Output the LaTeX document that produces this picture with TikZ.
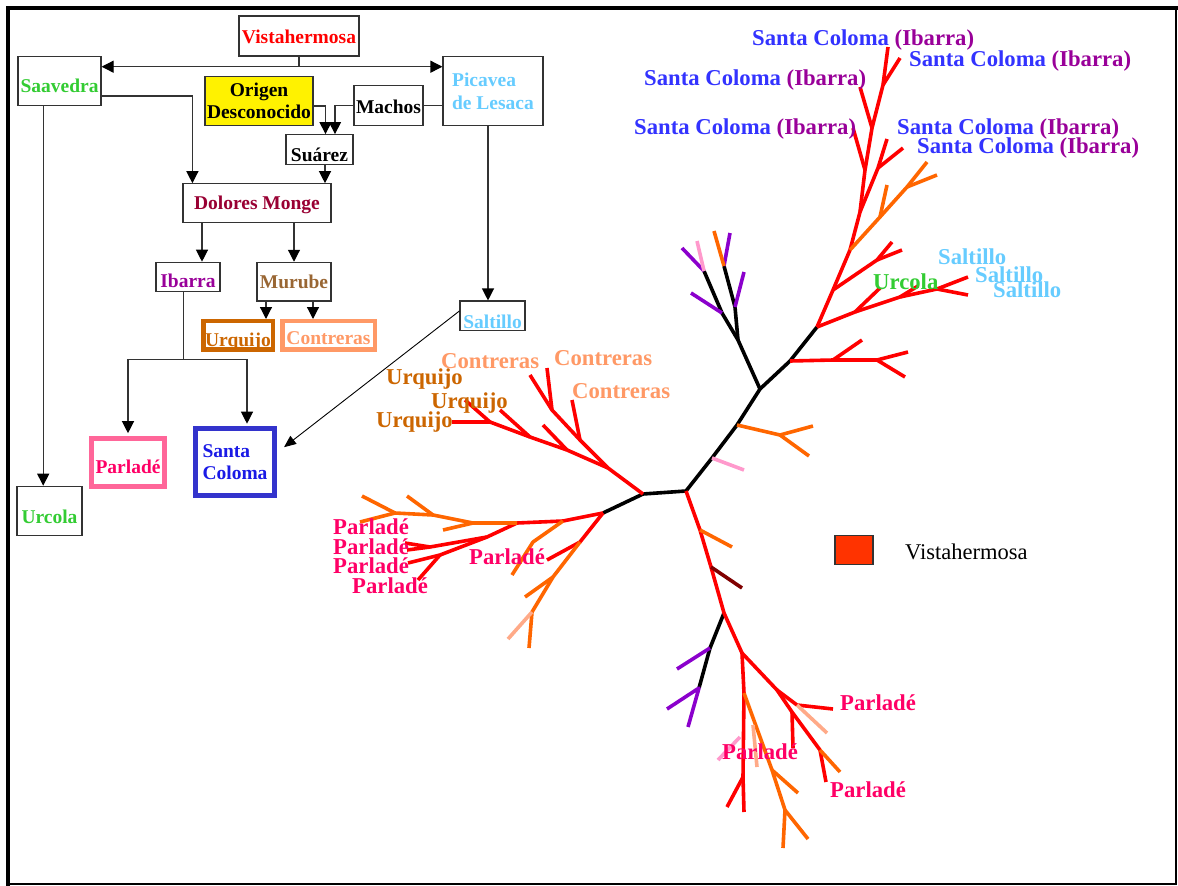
\documentclass[tikz,border=0pt]{standalone}
\usepackage{fontspec}
\setmainfont{Liberation Serif}
\usetikzlibrary{arrows.meta}

\definecolor{vred}{HTML}{FF0000}
\definecolor{sgreen}{HTML}{33CC33}
\definecolor{sky}{HTML}{66CCFF}
\definecolor{dmred}{HTML}{990033}
\definecolor{ibpur}{HTML}{990099}
\definecolor{mbrown}{HTML}{996633}
\definecolor{uqbrown}{HTML}{CC6600}
\definecolor{ctsalmon}{HTML}{FF9966}
\definecolor{pdpink}{HTML}{FF6699}
\definecolor{pdtext}{HTML}{FF0066}
\definecolor{scframe}{HTML}{3333CC}
\definecolor{sctext}{HTML}{1A1AE6}
\definecolor{scblue}{HTML}{3333FF}
\definecolor{legred}{HTML}{FF3300}
\definecolor{tora}{HTML}{FF6600}
\definecolor{tsal}{HTML}{FFAA88}
\definecolor{tpink}{HTML}{FF99CC}
\definecolor{tpur}{HTML}{8B00CC}
\definecolor{tdred}{HTML}{800000}

\newcommand\boxfont{\fontsize{19.5}{22.5}\selectfont\bfseries}
\newcommand\treefont{\fontsize{22.7}{24}\selectfont\bfseries}
\newcommand\legfont{\fontsize{22.5}{24}\selectfont}

\begin{document}
\begin{tikzpicture}[x=1pt,y=-1pt,
  box/.style={draw=black!80,line width=1.2pt,inner sep=0pt,font=\boxfont,fill=white},
  fat/.style={draw=#1,line width=4.5pt,inner sep=0pt,font=\boxfont,fill=white},
  lift/.style={text height=#1,text depth=0pt},
  conn/.style={draw=black!80,line width=1.2pt},
  arr/.style={conn,-{Triangle[length=12pt,width=12pt,color=black]}},
  br/.style={line width=3.6pt,line join=round},
  lbl/.style={anchor=west,inner sep=0pt,font=\treefont,text height=15pt,text depth=0pt}]
\useasboundingbox (0,0) rectangle (1178,886);
\fill[white] (0,0) rectangle (1178,886);
% frame
\draw[line width=1.6pt] (8,884) -- (1176,884) -- (1176,8);
\draw[line width=4pt] (8,886) -- (8,8) -- (1178,8);

% family boxes
\node[box,minimum width=120,minimum height=40,text=vred,lift=15.9pt] (vista) at (299,36) {Vistahermosa};
\node[box,minimum width=83,minimum height=49,text=sgreen,lift=22.9pt] (saav) at (59.5,81.3) {Saavedra};
\node[box,minimum width=100,minimum height=69,text=sky,align=left] (pica) at (493,91.2) {Picavea\\de Lesaca};
\node[box,minimum width=108,minimum height=49,fill=yellow,align=center] (orig) at (259,101) {Origen\\Desconocido};
\node[box,minimum width=69,minimum height=40,lift=15.9pt] (mach) at (388.5,105.8) {Machos};
\node[box,minimum width=67,minimum height=30,lift=22.9pt] (suar) at (319.5,149.7) {Suárez};
\node[box,minimum width=148,minimum height=39,text=dmred,lift=12.9pt] (dolo) at (257,203.3) {Dolores Monge};
\node[box,minimum width=64,minimum height=29.4,text=ibpur,lift=20.9pt] (ibar) at (188,277) {Ibarra};
\node[box,minimum width=74,minimum height=38.7,text=mbrown,lift=14.1pt] (muru) at (294,281.7) {Murube};
\node[fat=uqbrown,minimum width=69.5,minimum height=28.2,text=uqbrown,lift=22.3pt] (urqu) at (238,335.3) {Urquijo};
\node[fat=ctsalmon,minimum width=92.5,minimum height=28.2,text=ctsalmon,lift=18.3pt] (cont) at (328.5,335.3) {Contreras};
\node[box,minimum width=65,minimum height=29.3,text=sky,lift=24.9pt] (salt) at (492.5,315.7) {Saltillo};
\node[fat=pdpink,line width=5pt,minimum width=73,minimum height=48,text=pdtext,lift=22.9pt] (parl) at (128,462.2) {Parladé};
\node[fat=scframe,line width=5pt,minimum width=79,minimum height=67,text=sctext,align=left] (sc) at (235,462.2) {Santa\\Coloma};
\node[box,minimum width=65,minimum height=49.4,text=sgreen,lift=24.3pt] (urco) at (49.5,511) {Urcola};

% descent lines
\coordinate (vsplit) at (vista.south |- 0,66.7);
\draw[conn] (vista.south) -- (vsplit);
\draw[arr] (vsplit) -- (saav.east |- vsplit);
\draw[arr] (vsplit) -- (pica.west |- vsplit);
\draw[arr] (saav.east |- 0,96) -| ([xshift=10pt]dolo.north west);
\draw[arr] ([yshift=-5pt]orig.east) -| ([xshift=6pt]suar.north);
\draw[arr] (mach.west) -| ([xshift=15.5pt]suar.north);
\draw[conn] (mach.east) -- (pica.west |- mach.east);
\draw[arr] ([xshift=5.5pt]suar.south) -- ([xshift=5.5pt]suar.south |- dolo.north);
\draw[arr] ([xshift=14pt]ibar.north |- dolo.south) -- ([xshift=14pt]ibar.north);
\draw[arr] (muru.north |- dolo.south) -- (muru.north);
\draw[arr] ([xshift=-28pt]muru.south) -- ([xshift=-28pt]muru.south |- 0,319);
\draw[arr] ([xshift=19pt]muru.south) -- ([xshift=19pt]muru.south |- 0,319);
\coordinate (isplit) at ([xshift=-4.4pt]ibar.south |- 0,359.3);
\draw[conn] ([xshift=-4.4pt]ibar.south) -- (isplit);
\draw[arr] (isplit) -| ([yshift=2.5pt]parl.north);
\draw[arr] (isplit) -| ([xshift=12pt,yshift=2.5pt]sc.north);
\draw[arr] ([xshift=-16.3pt]saav.south) -- ([xshift=-16.3pt]saav.south |- urco.north);
\draw[arr] ([xshift=-5pt]pica.south) -- ([xshift=-5pt]pica.south |- salt.north);
\draw[-{Triangle[length=12pt,width=10pt]},line width=0.9pt] ([yshift=4.7pt]salt.west) -- ([xshift=7pt,yshift=15pt]sc.east);

% tree: backbone
\draw[br] (603,513) -- (643,494) -- (686,491) -- (712,458) -- (737,425) -- (760,389) -- (790,361) -- (817,327);
\draw[br] (760,389) -- (738,340) -- (722,313) -- (704,271);
\draw[br] (738,340) -- (735,307) -- (724,266);
\draw[br] (724,613) -- (710,648) -- (699,688);
% tree: red
\draw[br,vred] (817,327) -- (833,290) -- (850,250) -- (860,212) -- (865,170) -- (872,128) -- (883,85) -- (888,47);
\draw[br,vred] (883,85) -- (900,58);
\draw[br,vred] (872,128) -- (860,87);
\draw[br,vred] (865,170) -- (853,128);
\draw[br,vred] (860,212) -- (878,168) -- (887,139);
\draw[br,vred] (878,168) -- (903,148);
\draw[br,vred] (833,290) -- (877,260) -- (892,242);
\draw[br,vred] (877,260) -- (902,250);
\draw[br,vred] (817,327) -- (855,312) -- (900,297) -- (937,289) -- (968,277);
\draw[br,vred] (937,289) -- (968,295);
\draw[br,vred] (855,312) -- (880,288);
\draw[br,vred] (900,297) -- (918,286);
\draw[br,vred] (790,361) -- (833,360) -- (877,360) -- (908,352);
\draw[br,vred] (877,360) -- (905,377);
\draw[br,vred] (833,360) -- (862,340);
\draw[br,vred] (643,494) -- (608,468) -- (580,440) -- (552,410) -- (530,375);
\draw[br,vred] (552,410) -- (547,368);
\draw[br,vred] (580,440) -- (572,400);
\draw[br,vred] (608,468) -- (567,450) -- (530,437) -- (490,422) -- (452,422);
\draw[br,vred] (567,450) -- (543,425);
\draw[br,vred] (530,437) -- (500,410);
\draw[br,vred] (490,422) -- (465,400);
\draw[br,vred] (603,513) -- (563,521) -- (517,523) -- (487,537) -- (430,547) -- (405,543);
\draw[br,vred] (430,547) -- (407,550);
\draw[br,vred] (487,537) -- (440,555) -- (408,563);
\draw[br,vred] (440,555) -- (418,580);
\draw[br,vred] (603,513) -- (580,542) -- (547,560);
\draw[br,vred] (686,491) -- (700,530) -- (711,567) -- (724,613) -- (742,653) -- (744,693) -- (743,777) -- (744,812);
\draw[br,vred] (743,777) -- (727,807);
\draw[br,vred] (742,653) -- (777,690) -- (792,712) -- (820,750) -- (826,782);
\draw[br,vred] (792,712) -- (793,748);
\draw[br,vred] (777,690) -- (797,705) -- (833,709);
% tree: orange
\draw[br,tora] (737,425) -- (780,435) -- (813,426);
\draw[br,tora] (780,435) -- (809,456);
\draw[br,tora] (850,250) -- (880,217) -- (907,187) -- (927,162);
\draw[br,tora] (907,187) -- (937,175);
\draw[br,tora] (880,217) -- (887,185);
\draw[br,tora] (517,523) -- (473,523) -- (433,515) -- (395,513) -- (360,522);
\draw[br,tora] (433,515) -- (407,496);
\draw[br,tora] (395,513) -- (362,496);
\draw[br,tora] (473,523) -- (443,530);
\draw[br,tora] (563,521) -- (533,542) -- (512,575);
\draw[br,tora] (580,542) -- (553,577) -- (532,612) -- (529,648);
\draw[br,tora] (553,577) -- (525,597);
\draw[br,tora] (700,530) -- (732,547);
\draw[br,tora] (744,693) -- (772,770) -- (785,810) -- (783,848);
\draw[br,tora] (772,770) -- (798,793);
\draw[br,tora] (785,810) -- (808,839);
\draw[br,tora] (820,750) -- (840,772);
% tree: other colours
\draw[br,tpur] (722,313) -- (691,293);
\draw[br,tpur] (735,307) -- (744,272);
\draw[br,tpur] (704,271) -- (682,248);
\draw[br,tpur] (724,266) -- (730,233);
\draw[br,tpur] (710,648) -- (677,669);
\draw[br,tpur] (667,709) -- (699,688) -- (688,727);
\draw[br,tpink] (704,271) -- (697,241);
\draw[br,tpink] (712,458) -- (744,470);
\draw[br,tpink] (740,737) -- (718,760);
\draw[br,tora] (724,266) -- (714,231);
\draw[br,tsal] (532,612) -- (508,639);
\draw[br,tsal] (797,705) -- (827,733);
\draw[br,tsal] (753,725) -- (757,767);
\draw[br,tdred] (711,567) -- (742,588);

% tree labels
\node[lbl] (sc1) at (752,38.3) {\color{scblue}Santa Coloma \color{ibpur}(Ibarra)};
\node[lbl] (sc2) at (909,59.3) {\color{scblue}Santa Coloma \color{ibpur}(Ibarra)};
\node[lbl] (sc3) at (644,78.3) {\color{scblue}Santa Coloma \color{ibpur}(Ibarra)};
\node[lbl] (sc4) at (634,126.7) {\color{scblue}Santa Coloma \color{ibpur}(Ibarra)};
\node[lbl] (sc5) at (897,126.7) {\color{scblue}Santa Coloma \color{ibpur}(Ibarra)};
\node[lbl] (sc6) at (917,146) {\color{scblue}Santa Coloma \color{ibpur}(Ibarra)};
\node[lbl,text=sky] (sal1) at (938,256.7) {Saltillo};
\node[lbl,text=sky] (sal2) at (975,275) {Saltillo};
\node[lbl,text=sky] (sal3) at (993,290) {Saltillo};
\node[lbl,text=sgreen] (urc1) at (873,281.7) {Urcola};
\node[lbl,text=ctsalmon] (con1) at (441,360.7) {Contreras};
\node[lbl,text=ctsalmon] (con2) at (554,358.3) {Contreras};
\node[lbl,text=ctsalmon] (con3) at (572,390.7) {Contreras};
\node[lbl,text=uqbrown] (urq1) at (386,376.7) {Urquijo};
\node[lbl,text=uqbrown] (urq2) at (431,401) {Urquijo};
\node[lbl,text=uqbrown] (urq3) at (376,420) {Urquijo};
\node[lbl,text=pdtext] (par1) at (333,526.7) {Parladé};
\node[lbl,text=pdtext] (par2) at (333,546.7) {Parladé};
\node[lbl,text=pdtext] (par3) at (333,566) {Parladé};
\node[lbl,text=pdtext] (par4) at (352,586) {Parladé};
\node[lbl,text=pdtext] (par5) at (469,556.7) {Parladé};
\node[lbl,text=pdtext] (par6) at (722,751.7) {Parladé};
\node[lbl,text=pdtext] (par7) at (840,702.7) {Parladé};
\node[lbl,text=pdtext] (par8) at (830,790) {Parladé};

% legend
\node[draw=black!80,line width=1.2pt,fill=legred,minimum width=38,minimum height=29] (legbox) at (854,550) {};
\node[anchor=west,inner sep=0pt,font=\legfont,text height=14.6pt,text depth=0pt] (legtext) at (905,551.7) {Vistahermosa};
\end{tikzpicture}
\end{document}
